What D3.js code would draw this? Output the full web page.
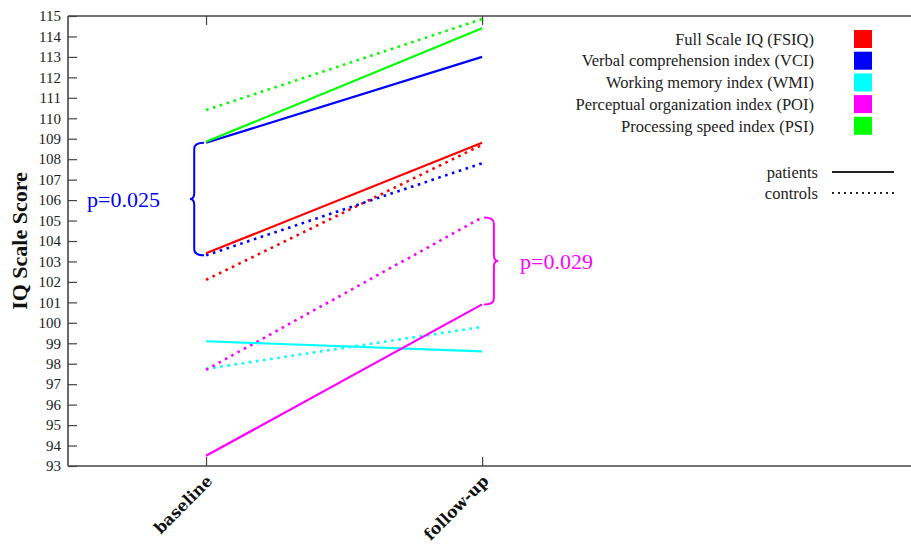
<!DOCTYPE html>
<html>
<head>
<meta charset="utf-8">
<script src="https://cdn.jsdelivr.net/npm/d3@7"></script>
<style>
  body { margin: 0; background: #fff; }
  svg text { font-family: "Liberation Serif", "DejaVu Serif", serif; }
</style>
</head>
<body>
<div id="chart"></div>
<script>
// ---- data ----
const timepoints = ['baseline', 'follow-up'];
const indexNames = ['Full Scale IQ (FSIQ)', 'Verbal comprehension index (VCI)', 'Working memory index (WMI)',
                    'Perceptual organization index (POI)', 'Processing speed index (PSI)'];
const indexColors = ['#ff0000', '#0000ff', '#00ffff', '#ff00ff', '#00ff00'];
const patientValues = [[103.4, 108.8], [108.8, 113.0], [99.1, 98.6], [93.5, 100.9], [108.85, 114.4]];
const controlValues = [[102.1, 108.7], [103.3, 107.8], [97.75, 99.8], [97.7, 105.15], [110.4, 114.85]];
const yTicks = d3.range(93, 116);
const pLabels = [
    { text: 'p=0.025', color: '#0000ff', at: 0, from: 108.8, to: 103.3, side: 'left' },
    { text: 'p=0.029', color: '#ff00ff', at: 1, from: 105.15, to: 100.9, side: 'right' }
];

const width = 911, height = 544;
const margin = { left: 68, top: 16, right: 1, bottom: 78 };

const svg = d3.select('#chart').append('svg')
    .attr('width', width)
    .attr('height', height);

const x = d3.scaleLinear().domain([-0.5, 2.55]).range([margin.left, width - margin.right]);
const y = d3.scaleLinear().domain([93, 115]).range([height - margin.bottom, margin.top]);

// frame: left, top, bottom (right edge is cropped away)
const frame = svg.append('g')
    .attr('stroke', '#444')
    .attr('stroke-width', 1.6);
frame.append('line')
    .attr('x1', x.range()[0]).attr('x2', width)
    .attr('y1', y.range()[1]).attr('y2', y.range()[1]);
frame.append('line')
    .attr('x1', x.range()[0]).attr('x2', width)
    .attr('y1', y.range()[0]).attr('y2', y.range()[0]);
frame.append('line')
    .attr('x1', x.range()[0]).attr('x2', x.range()[0])
    .attr('y1', y.range()[1]).attr('y2', y.range()[0]);

// y axis, ticks inward
const yAxis = svg.append('g')
    .attr('transform', `translate(${margin.left},0)`)
    .call(d3.axisLeft(y).tickValues(yTicks).tickSize(-9).tickPadding(5).tickFormat(d3.format('d')));
yAxis.select('.domain').remove();
yAxis.selectAll('line').attr('stroke', '#444').attr('stroke-width', 1.2);
yAxis.selectAll('text').attr('font-size', 15).attr('fill', '#222').attr('dx', '-2');

// x ticks (bottom and top)
const xb = svg.append('g')
    .attr('transform', `translate(0,${y.range()[0]})`)
    .call(d3.axisBottom(x).tickValues([0, 1]).tickSize(-9).tickFormat(i => timepoints[i]));
xb.select('.domain').remove();
xb.selectAll('line').attr('stroke', '#444').attr('stroke-width', 1.2);
xb.selectAll('text')
    .style('font-family', '"DejaVu Serif", serif')
    .attr('font-size', 16)
    .attr('font-weight', 'bold')
    .attr('fill', '#111')
    .attr('text-anchor', 'end')
    .attr('dy', 0)
    .attr('y', 0)
    .attr('transform', 'translate(7,16) rotate(-45)');

const xt = svg.append('g')
    .attr('transform', `translate(0,${y.range()[1]})`)
    .call(d3.axisTop(x).tickValues([0, 1]).tickSize(-9).tickFormat(''));
xt.select('.domain').remove();
xt.selectAll('line').attr('stroke', '#444').attr('stroke-width', 1.2);

// y title
svg.append('text')
    .attr('transform', `translate(27,241) rotate(-90)`)
    .attr('text-anchor', 'middle')
    .attr('font-size', 22)
    .attr('font-weight', 'bold')
    .attr('fill', '#111')
    .text('IQ Scale Score');

// series lines
const line = d3.line().x((d, i) => x(i)).y(d => y(d));
const lines = svg.append('g');
controlValues.forEach((vals, k) => {
    lines.append('path')
        .attr('d', line(vals))
        .attr('fill', 'none')
        .attr('stroke', indexColors[k])
        .attr('stroke-width', 2.6)
        .attr('stroke-dasharray', '2.6,4.6');
});
patientValues.forEach((vals, k) => {
    lines.append('path')
        .attr('d', line(vals))
        .attr('fill', 'none')
        .attr('stroke', indexColors[k])
        .attr('stroke-width', 2.2);
});

// curly braces with p values
function bracePath(xEdge, yTop, yBot, dir) {
    // dir = -1 tip on the left, +1 tip on the right
    const w = 14 * dir, r = 6;
    const xm = xEdge + w * 0.7, xt = xEdge + w;
    const ymid = (yTop + yBot) / 2;
    return `M${xEdge},${yTop}` +
        ` Q${xm},${yTop} ${xm},${yTop + r}` +
        ` L${xm},${ymid - r}` +
        ` Q${xm},${ymid} ${xt},${ymid}` +
        ` Q${xm},${ymid} ${xm},${ymid + r}` +
        ` L${xm},${yBot - r}` +
        ` Q${xm},${yBot} ${xEdge},${yBot}`;
}
pLabels.forEach(p => {
    const dir = p.side === 'left' ? -1 : 1;
    const xe = x(p.at) + dir * 2;
    svg.append('path')
        .attr('d', bracePath(xe, y(p.from), y(p.to), dir))
        .attr('fill', 'none')
        .attr('stroke', p.color)
        .attr('stroke-width', 2);
    const ymid = (y(p.from) + y(p.to)) / 2;
    svg.append('text')
        .attr('x', p.side === 'left' ? xe - 44 : xe + 36)
        .attr('y', ymid)
        .attr('dy', '0.35em')
        .attr('text-anchor', p.side === 'left' ? 'end' : 'start')
        .attr('font-size', 22)
        .attr('fill', p.color)
        .text(p.text);
});

// legend: indices
const legend = svg.append('g');
indexNames.forEach((name, k) => {
    const ly = 39 + k * 21.7;
    legend.append('text')
        .attr('x', 814).attr('y', ly).attr('dy', '0.35em')
        .attr('text-anchor', 'end')
        .attr('font-size', 16.5)
        .attr('fill', '#222')
        .text(name);
    legend.append('rect')
        .attr('x', 854).attr('y', ly - 9)
        .attr('width', 18).attr('height', 18)
        .attr('fill', indexColors[k]);
});

// legend: groups
[['patients', null], ['controls', '2,4']].forEach(([label, dash], k) => {
    const ly = 172 + k * 21;
    legend.append('text')
        .attr('x', 818).attr('y', ly).attr('dy', '0.35em')
        .attr('text-anchor', 'end')
        .attr('font-size', 16.5)
        .attr('fill', '#222')
        .text(label);
    legend.append('line')
        .attr('x1', 832).attr('x2', 894).attr('y1', ly).attr('y2', ly)
        .attr('stroke', '#222')
        .attr('stroke-width', 2)
        .attr('stroke-dasharray', dash);
});
</script>
</body>
</html>
